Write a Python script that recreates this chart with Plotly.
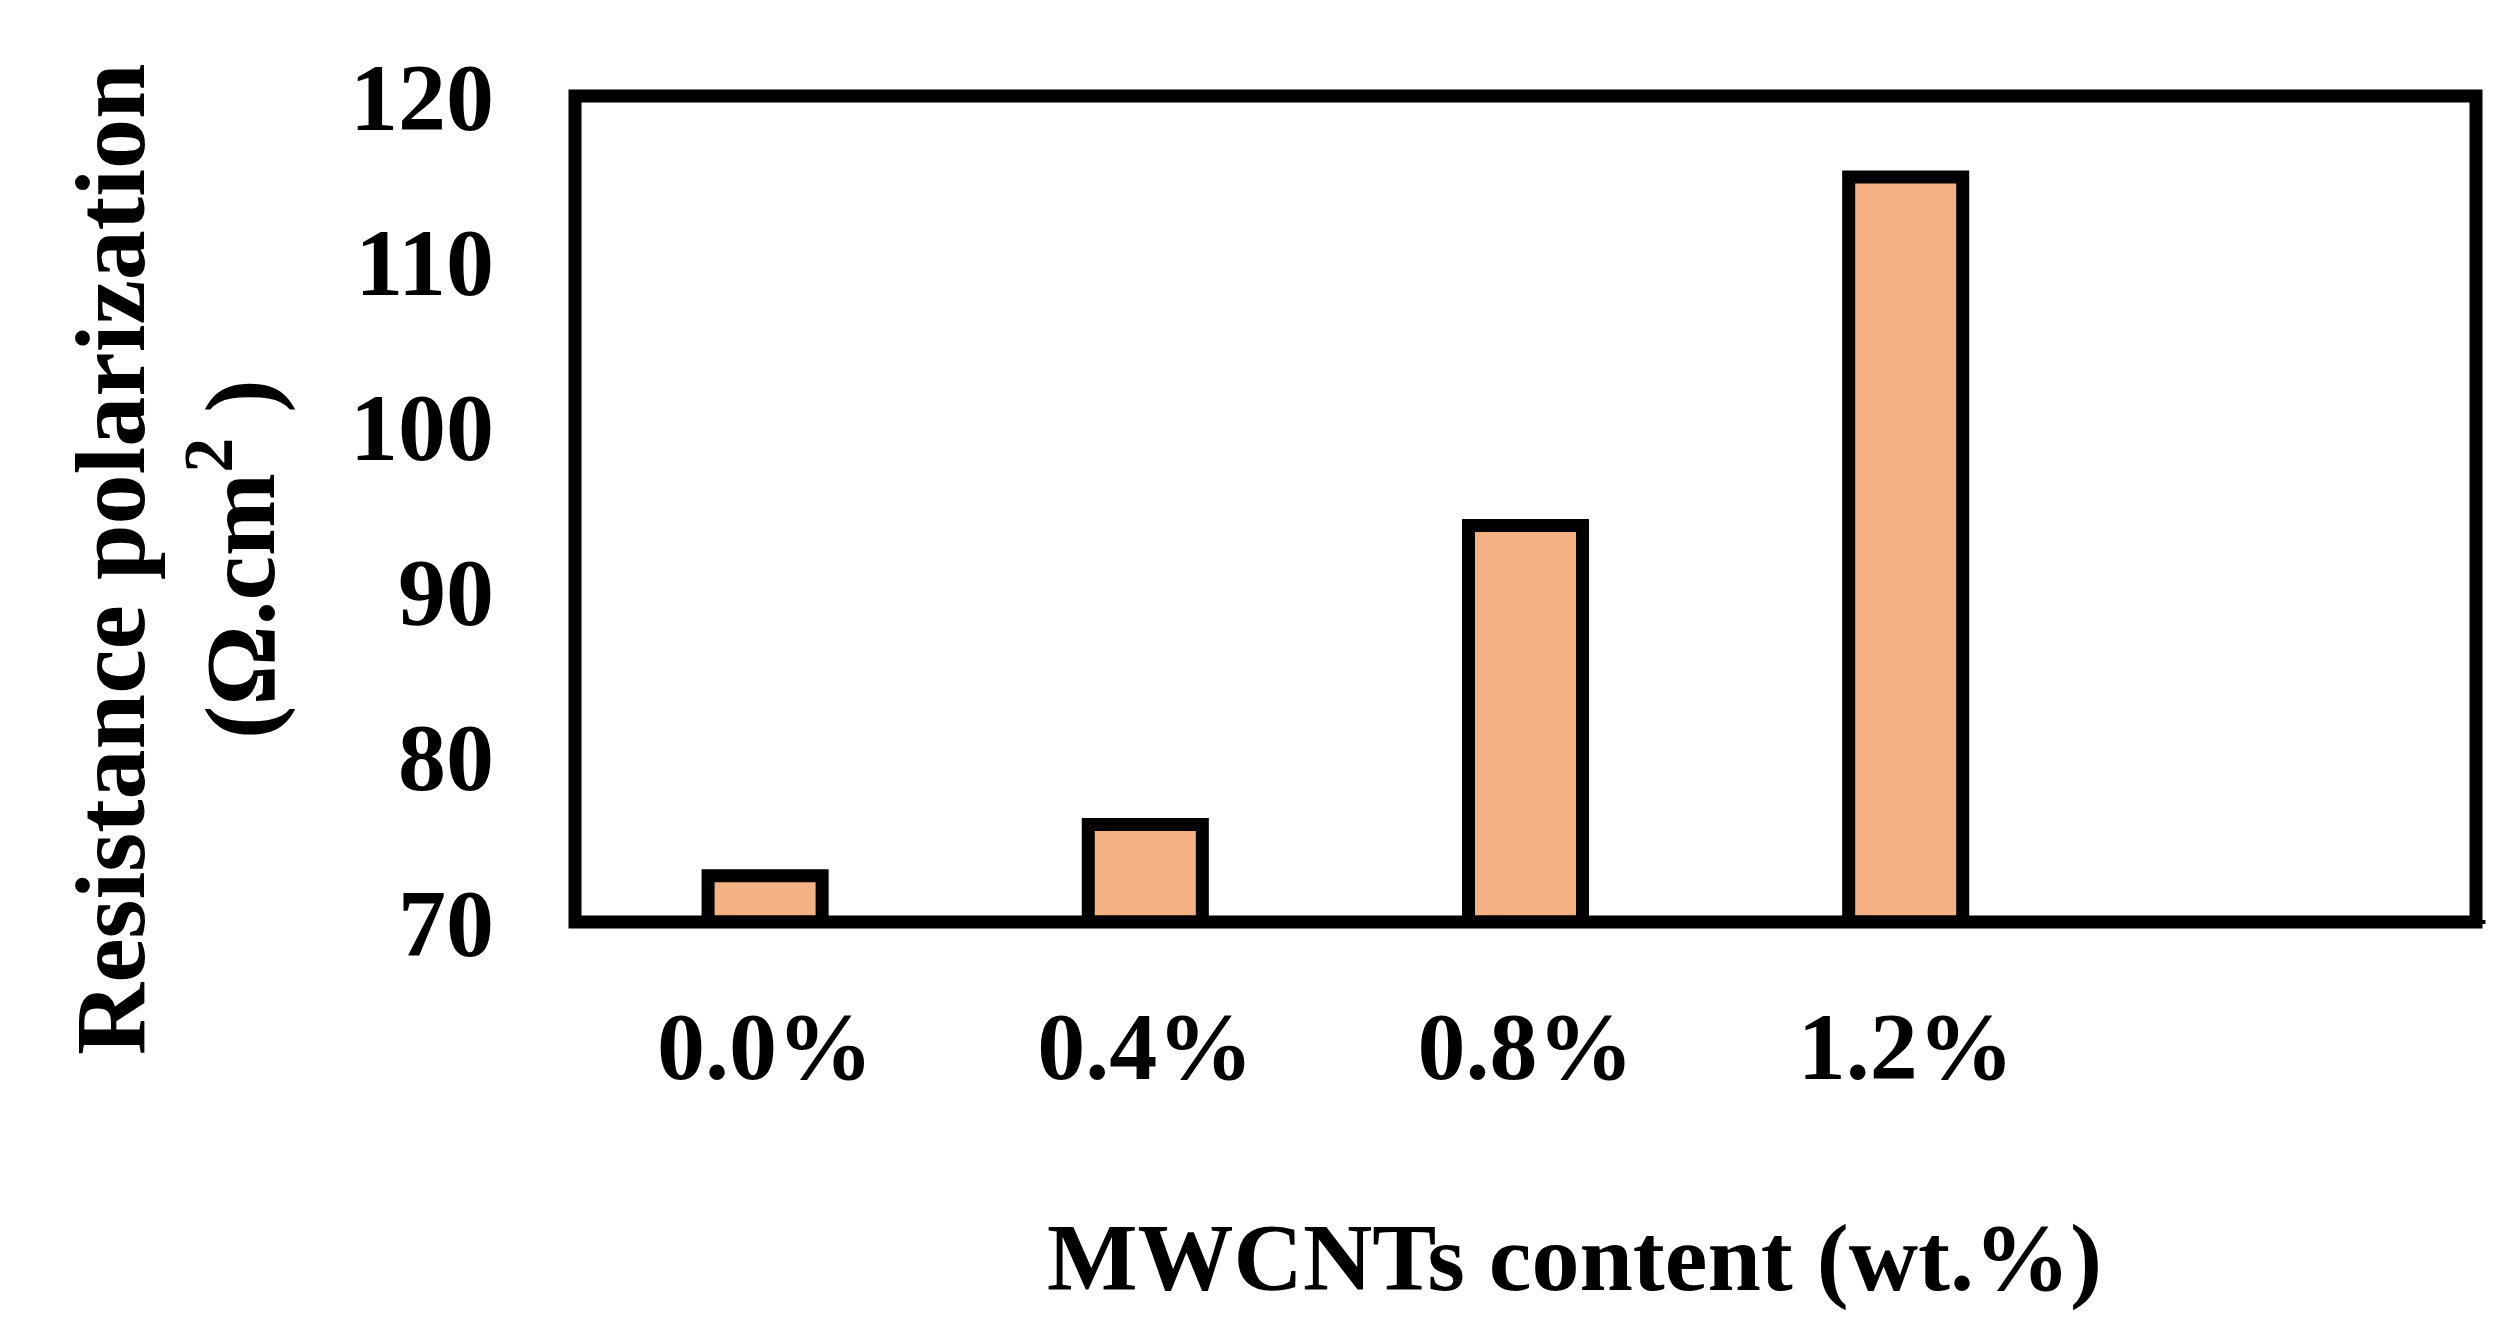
import plotly.graph_objects as go

categories = ["0.0%", "0.4%", "0.8%", "1.2%", ""]
values = [72.8, 75.9, 94.0, 115.1, None]
yticks = [70, 80, 90, 100, 110, 120]

F = "Liberation Serif"
heights = [v - 70 if v is not None else None for v in values]
fig = go.Figure(go.Bar(
    x=list(range(5)), y=heights, base=70,
    marker=dict(color="#F4B183", line=dict(color="black", width=13)),
    width=0.3,
))

fig.update_layout(
    width=2512, height=1344, plot_bgcolor="white", paper_bgcolor="white",
    margin=dict(l=567, r=44, t=88, b=430), showlegend=False,
    font=dict(family=F, size=96, color="black"),
    xaxis=dict(tickvals=list(range(5)), ticktext=categories, range=[-0.5, 4.5],
               showgrid=False, ticks="", ticklabelstandoff=60,
               tickfont=dict(family=F, size=96, color="black", weight="bold")),
    yaxis=dict(range=[70, 120], tickvals=yticks, showgrid=False, ticks="",
               zeroline=False, ticklabelstandoff=80,
               tickfont=dict(family=F, size=96, color="black", weight="bold")),
    shapes=[
        dict(type="rect", xref="paper", yref="paper", x0=0, x1=1, y0=0, y1=1,
             line=dict(color="black", width=13)),
        dict(type="line", xref="paper", yref="paper", x0=0, x1=1.005, y0=0, y1=0,
             line=dict(color="black", width=4)),
    ],
    annotations=[
        dict(text="<b>Resistance polarization<br>(Ω.cm<sup>2</sup> )</b>", xref="paper", yref="paper",
             x=0, y=0.5, xanchor="center", yanchor="middle", xshift=-400, yshift=-50,
             textangle=-90, showarrow=False,
             font=dict(family=F, size=100, color="black")),
        dict(text="<b>MWCNTs content (wt.%)</b>", xref="paper", yref="paper",
             x=0.526, y=0, yanchor="middle", yshift=-335, showarrow=False,
             font=dict(family=F, size=96, color="black")),
    ],
)
fig.write_html("out.html")
